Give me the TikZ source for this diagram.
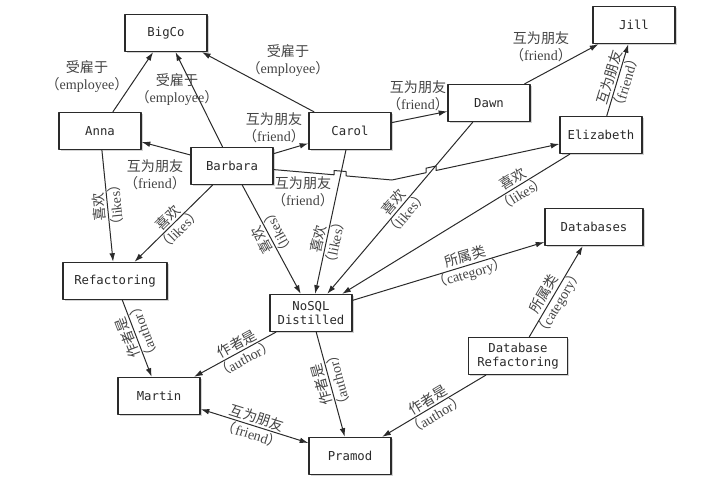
\documentclass[tikz,border=0pt]{standalone}
\usepackage{fontspec}
\setmainfont{Liberation Serif}
\setmonofont{DejaVu Sans Mono}
\newfontfamily\cjk{Noto Sans CJK SC}
\usetikzlibrary{arrows.meta,shadows}
\definecolor{inkgray}{HTML}{2A2A2A}
\definecolor{labgray}{HTML}{444444}
\newcommand{\reltxt}[2]{{\cjk #1}\\{\cjk （}#2{\cjk ）}}
\tikzset{
  entity/.style={draw=inkgray, line width=1.1pt, fill=white, minimum width=2.46cm, minimum height=1.11cm,
    inner sep=2pt, align=center, text=inkgray, font=\ttfamily\fontsize{10.5}{12}\selectfont,
    drop shadow={shadow xshift=1.4pt, shadow yshift=-1.4pt, opacity=0.35}},
  reltag/.style={align=center, inner sep=1pt, text=labgray, font=\fontsize{12}{14.5}\selectfont},
  upflip/.style={sloped, rotate=180},
  link/.style={->, draw=inkgray, line width=0.85pt},
}
\begin{document}
\begin{tikzpicture}[line cap=round,line join=round,>={Latex[length=2.6mm,width=1.7mm]},x=0.03cm,y=-0.03cm]
\useasboundingbox (0,0) rectangle (707,500);
% entities
\node[entity] (bigco) at (166,33) {BigCo};
\node[entity] (anna) at (100,131) {Anna};
\node[entity] (barbara) at (232,166) {Barbara};
\node[entity] (carol) at (350,131) {Carol};
\node[entity] (dawn) at (489,103) {Dawn};
\node[entity] (jill) at (634,25) {Jill};
\node[entity] (eliz) at (601,135) {Elizabeth};
\node[entity, minimum width=3.12cm] (refac) at (115,281) {Refactoring};
\node[entity] (nosql) at (311,313) {NoSQL\\Distilled};
\node[entity, minimum width=2.94cm] (dbs) at (594,227) {Databases};
\node[entity] (martin) at (159,396) {Martin};
\node[entity, minimum width=2.97cm] (dbref) at (518,356) {Database\\Refactoring};
\node[entity] (pramod) at (350,456) {Pramod};
% employee
\draw[link] (anna) -- (bigco);
\draw[link] (barbara) -- (bigco);
\draw[link] (carol) -- (bigco);
\node[reltag] (lemp1) at (87,77) {\reltxt{受雇于}{employee}};
\node[reltag] (lemp2) at (177,90) {\reltxt{受雇于}{employee}};
\node[reltag] (lemp3) at (288,61) {\reltxt{受雇于}{employee}};
% friend
\draw[link] (barbara) -- (anna);
\draw[link] (barbara) -- (carol);
\draw[link] (carol) -- (dawn);
\draw[link] (dawn) -- (jill);
\coordinate (kink) at (392,180);
\draw[link] (barbara) -- (334,174.8) -- (334,170.5) -- (346,171.5) -- (346,175.9) -- (kink)
  -- (426,172.7) -- (426,168.2) -- (436,166) -- (436,170.5) -- (eliz);
\draw[link] (eliz) -- node[reltag, sloped, pos=0.5] (lfr6) {\reltxt{互为朋友}{friend}} (jill);
\draw[link, <->] (martin) -- node[reltag, sloped, pos=0.5] (lfr7) {\reltxt{互为朋友}{friend}} (pramod);
\node[reltag] (lfr1) at (155,175) {\reltxt{互为朋友}{friend}};
\node[reltag] (lfr2) at (274,128) {\reltxt{互为朋友}{friend}};
\node[reltag] (lfr3) at (303,192) {\reltxt{互为朋友}{friend}};
\node[reltag] (lfr4) at (418,96) {\reltxt{互为朋友}{friend}};
\node[reltag] (lfr5) at (541,47) {\reltxt{互为朋友}{friend}};
% likes
\draw[link] (anna) -- node[reltag, upflip, pos=0.5] (llk1) {\reltxt{喜欢}{likes}} (refac);
\draw[link] (barbara) -- node[reltag, sloped, pos=0.5] (llk2) {\reltxt{喜欢}{likes}} (refac);
\draw[link] (barbara) -- node[reltag, upflip, pos=0.47] (llk3) {\reltxt{喜欢}{likes}} (nosql);
\draw[link] (carol) -- node[reltag, sloped, pos=0.63] (llk4) {\reltxt{喜欢}{likes}} (nosql);
\draw[link] (dawn) -- node[reltag, sloped, pos=0.5] (llk5) {\reltxt{喜欢}{likes}} (nosql);
\draw[link] (eliz) -- node[reltag, sloped, pos=0.23] (llk6) {\reltxt{喜欢}{likes}} (nosql);
% category
\draw[link] (nosql) -- node[reltag, sloped, pos=0.6] (lcat1) {\reltxt{所属类}{category}} (dbs);
\draw[link] (dbref) -- node[reltag, sloped, pos=0.42] (lcat2) {\reltxt{所属类}{category}} (dbs);
% author
\draw[link] (refac) -- node[reltag, upflip, pos=0.45] (lau1) {\reltxt{作者是}{author}} (martin);
\draw[link] (nosql) -- node[reltag, sloped, pos=0.43] (lau2) {\reltxt{作者是}{author}} (martin);
\draw[link] (nosql) -- node[reltag, upflip, pos=0.48] (lau3) {\reltxt{作者是}{author}} (pramod);
\draw[link] (dbref) -- node[reltag, sloped, pos=0.52] (lau4) {\reltxt{作者是}{author}} (pramod);
\end{tikzpicture}
\end{document}
